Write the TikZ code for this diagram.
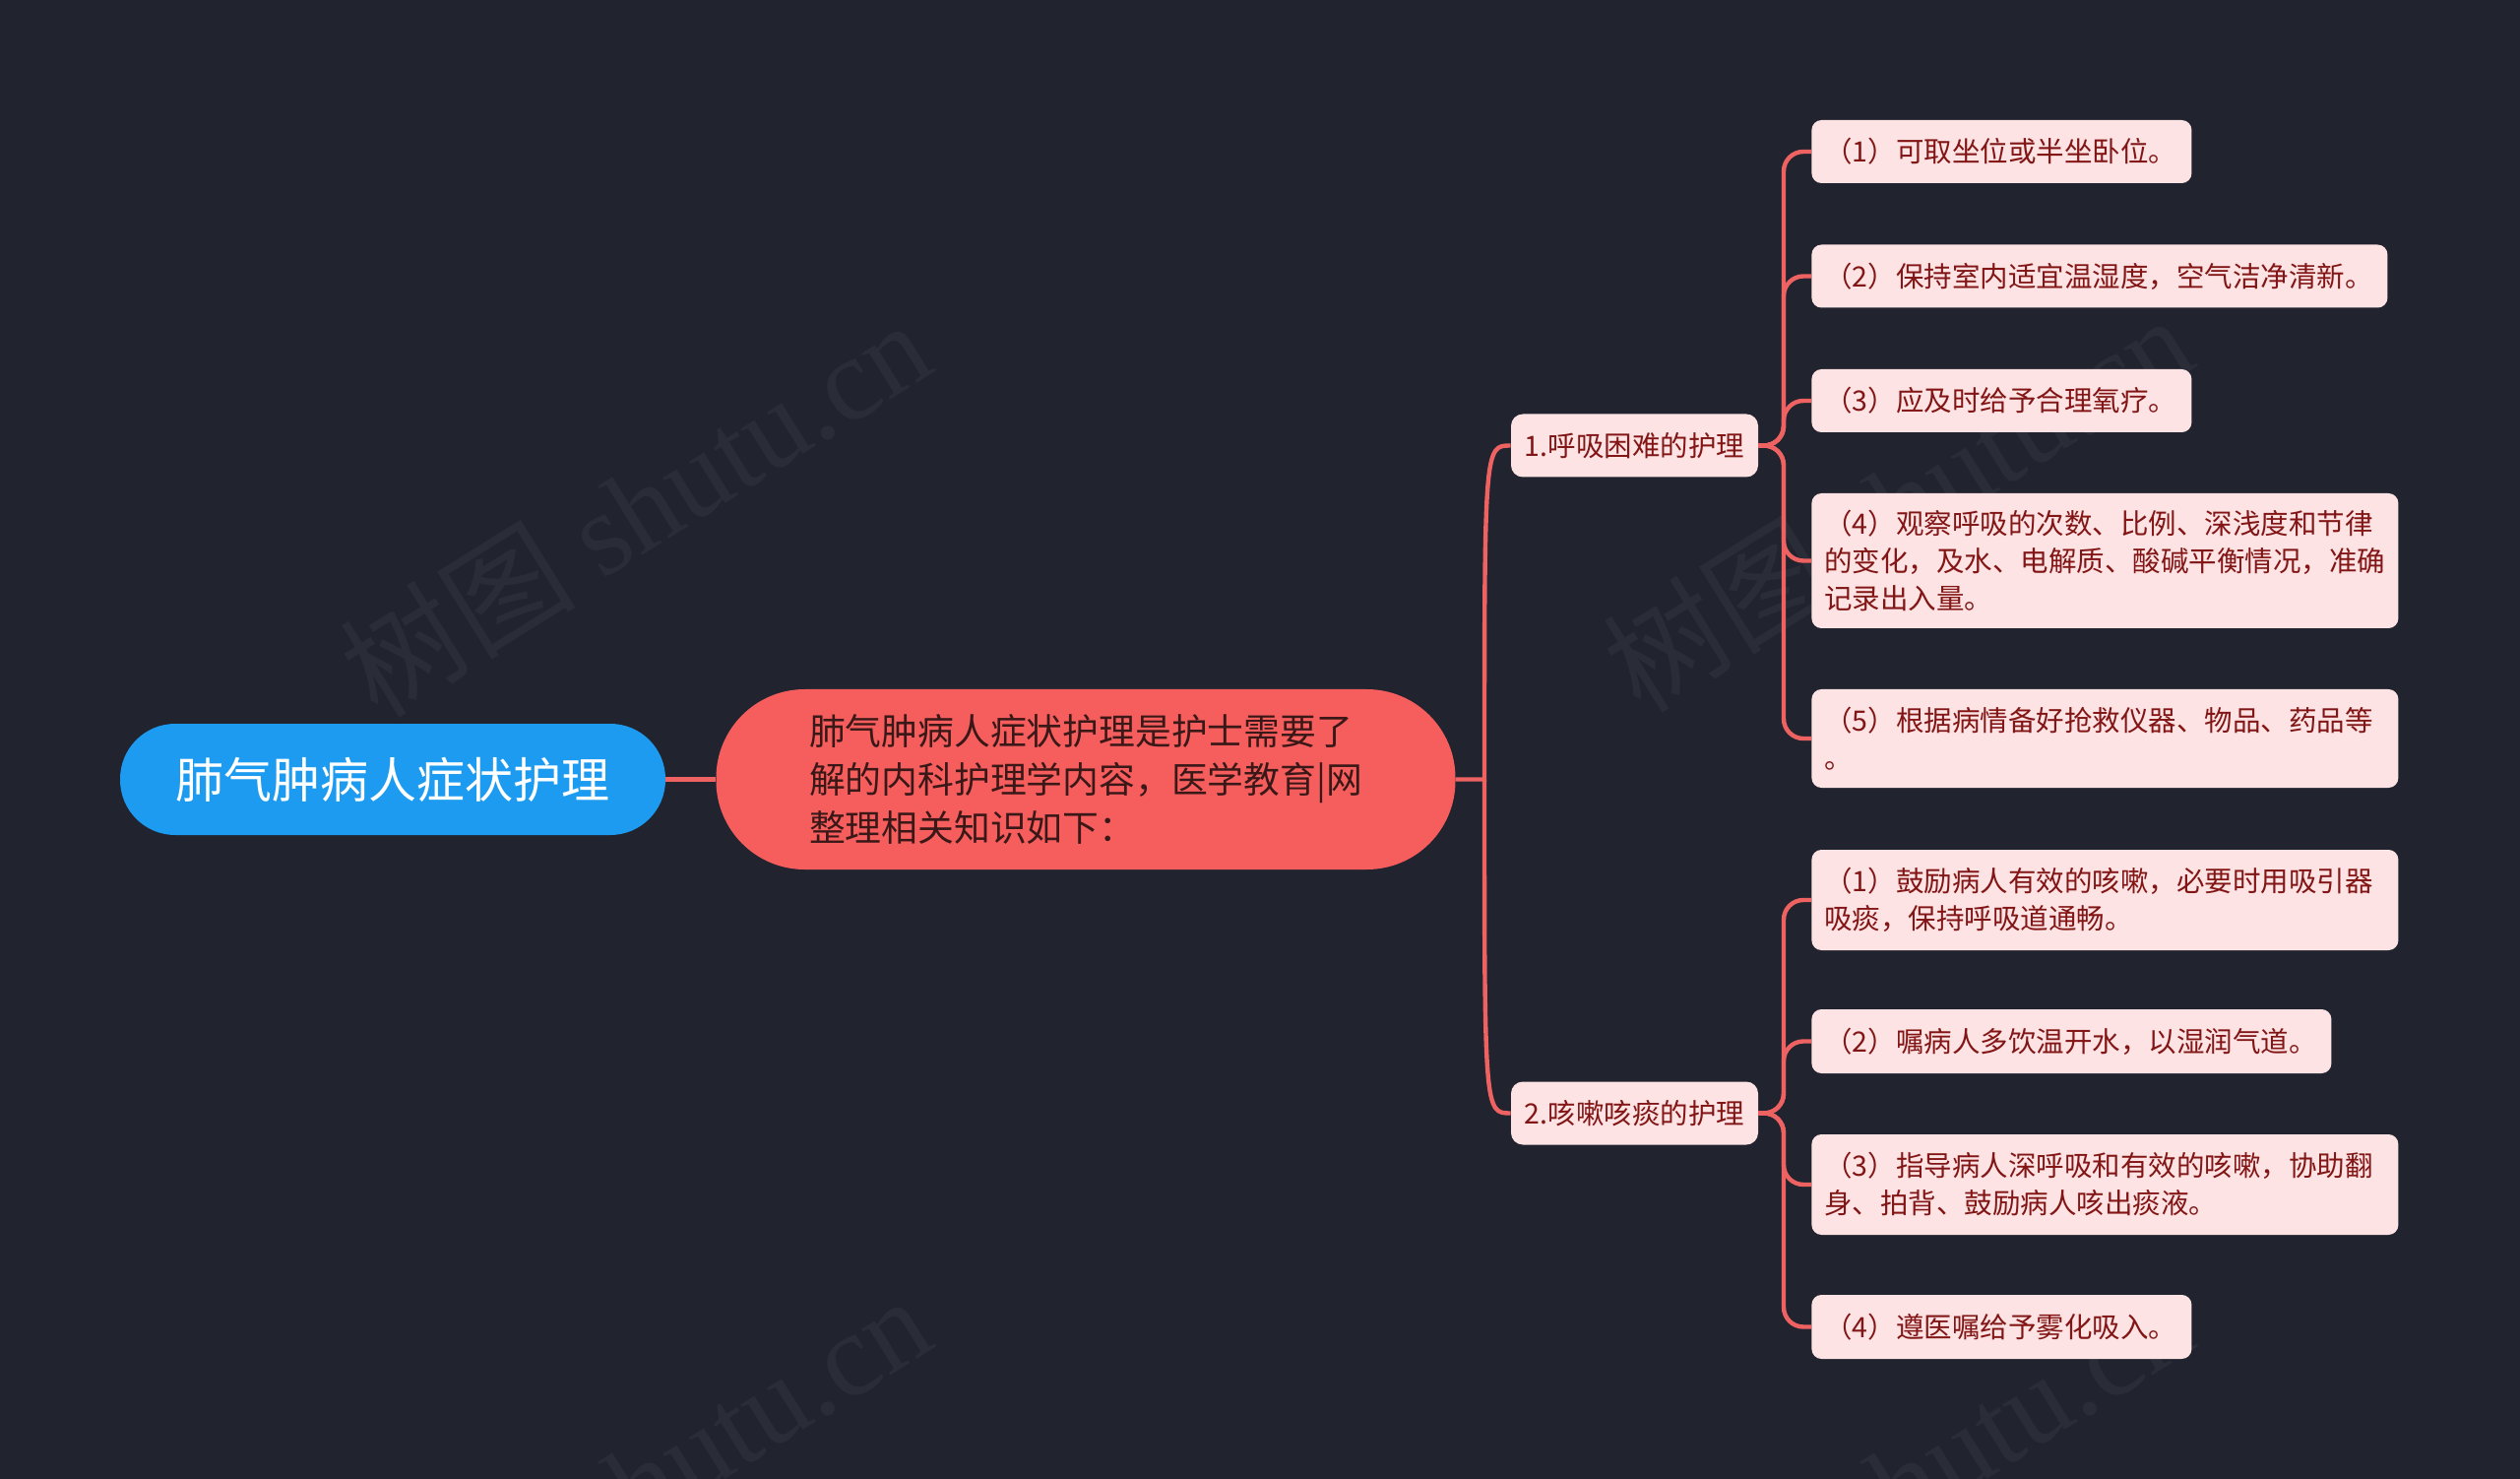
\documentclass[tikz,border=0pt]{standalone}
\usepackage{fontspec}
\setmainfont{Noto Sans CJK SC}
\newfontfamily\wmserif{Liberation Serif}
\newfontfamily\wmcjk{Noto Sans CJK SC}
\definecolor{bgc}{HTML}{21242F}
\definecolor{wmc}{HTML}{2A2D38}
\definecolor{rootc}{HTML}{1C9BF0}
\definecolor{mainc}{HTML}{F65E5E}
\definecolor{maintext}{HTML}{3A1818}
\definecolor{connc}{HTML}{EE6262}
\definecolor{leaffill}{HTML}{FDE3E3}
\definecolor{leaftext}{HTML}{821515}
\begin{document}
\begin{tikzpicture}[x=0.5pt,y=-0.5pt,
  conn/.style={draw=connc, line width=2.2pt},
  rootbox/.style={fill=rootc, text=white, rounded corners=28pt, minimum width=277pt, minimum height=56.5pt, inner sep=0pt, font=\fontsize{24.5pt}{30pt}\selectfont},
  mainbox/.style={fill=mainc, text=maintext, rounded corners=45pt, minimum width=375.5pt, minimum height=91.5pt, inner sep=0pt, align=left, font=\fontsize{18.4pt}{24.5pt}\selectfont},
  branchbox/.style={fill=leaffill, text=leaftext, rounded corners=6pt, minimum width=125.5pt, minimum height=32pt, inner sep=0pt, font=\fontsize{14.25pt}{19pt}\selectfont},
  leafbox/.style={fill=leaffill, text=leaftext, rounded corners=5pt, anchor=west, align=left, inner xsep=6.5pt, inner ysep=0pt, font=\fontsize{14.25pt}{19pt}\selectfont},
  wmark/.style={text=wmc, rotate=32, inner sep=0pt}
]
\fill[bgc] (0,0) rectangle (2560,1502);
\useasboundingbox (0,0) rectangle (2560,1502);
\begin{scope}
\clip (0,0) rectangle (2560,1502);
\node[wmark] (wm1) at (645,515) {\wmcjk\fontsize{60pt}{60pt}\selectfont 树图 {\wmserif shutu.cn}};
\node[wmark] (wm2) at (1927,510) {\wmcjk\fontsize{60pt}{60pt}\selectfont 树图 {\wmserif shutu.cn}};
\node[wmark] (wm3) at (645,1506) {\wmcjk\fontsize{60pt}{60pt}\selectfont 树图 {\wmserif shutu.cn}};
\node[wmark] (wm4) at (1927,1506) {\wmcjk\fontsize{60pt}{60pt}\selectfont 树图 {\wmserif shutu.cn}};
\end{scope}

\node[rootbox] (root) at (399,791.5) {肺气肿病人症状护理};
\node[mainbox] (main) at (1103,791.5) {肺气肿病人症状护理是护士需要了\\解的内科护理学内容，医学教育|网\\整理相关知识如下：};

\node[branchbox] (b1) at (1660.5,452.5) {1.呼吸困难的护理};
\node[branchbox] (b2) at (1660.5,1130.5) {2.咳嗽咳痰的护理};

\node[leafbox, minimum width=193pt, text width=180pt, minimum height=32pt] (l1) at (1840,154) {（1）可取坐位或半坐卧位。};
\node[leafbox, minimum width=292.5pt, text width=279.5pt, minimum height=32pt] (l2) at (1840,280.5) {（2）保持室内适宜温湿度，空气洁净清新。};
\node[leafbox, minimum width=193pt, text width=180pt, minimum height=32pt] (l3) at (1840,407) {（3）应及时给予合理氧疗。};
\node[leafbox, minimum width=298pt, text width=285pt, minimum height=68.5pt] (l4) at (1840,569.5) {（4）观察呼吸的次数、比例、深浅度和节律\\的变化，及水、电解质、酸碱平衡情况，准确\\记录出入量。};
\node[leafbox, minimum width=298pt, text width=285pt, minimum height=50pt] (l5) at (1840,750) {（5）根据病情备好抢救仪器、物品、药品等\\。};

\node[leafbox, minimum width=298pt, text width=285pt, minimum height=51pt] (l6) at (1840,914) {（1）鼓励病人有效的咳嗽，必要时用吸引器\\吸痰，保持呼吸道通畅。};
\node[leafbox, minimum width=264pt, text width=251pt, minimum height=32.5pt] (l7) at (1840,1057.5) {（2）嘱病人多饮温开水，以湿润气道。};
\node[leafbox, minimum width=298pt, text width=285pt, minimum height=51pt] (l8) at (1840,1203) {（3）指导病人深呼吸和有效的咳嗽，协助翻\\身、拍背、鼓励病人咳出痰液。};
\node[leafbox, minimum width=193pt, text width=180pt, minimum height=32.5pt] (l9) at (1840,1347.5) {（4）遵医嘱给予雾化吸入。};

\coordinate (j) at (1508,791.5);
\coordinate (s1) at (1812,452.5);
\coordinate (s2) at (1812,1130.5);

\draw[conn] (root.east) -- (main.west);
\draw[conn] (main.east) -- (j) .. controls (j |- b1.west) .. (b1.west);
\draw[conn] (j) .. controls (j |- b2.west) .. (b2.west);

\foreach \l in {l1,l2,l3,l4,l5}{
  \draw[conn, rounded corners=10pt] (b1.east) -- (s1) |- (\l.west);
}
\foreach \l in {l6,l7,l8,l9}{
  \draw[conn, rounded corners=10pt] (b2.east) -- (s2) |- (\l.west);
}
\end{tikzpicture}
\end{document}
